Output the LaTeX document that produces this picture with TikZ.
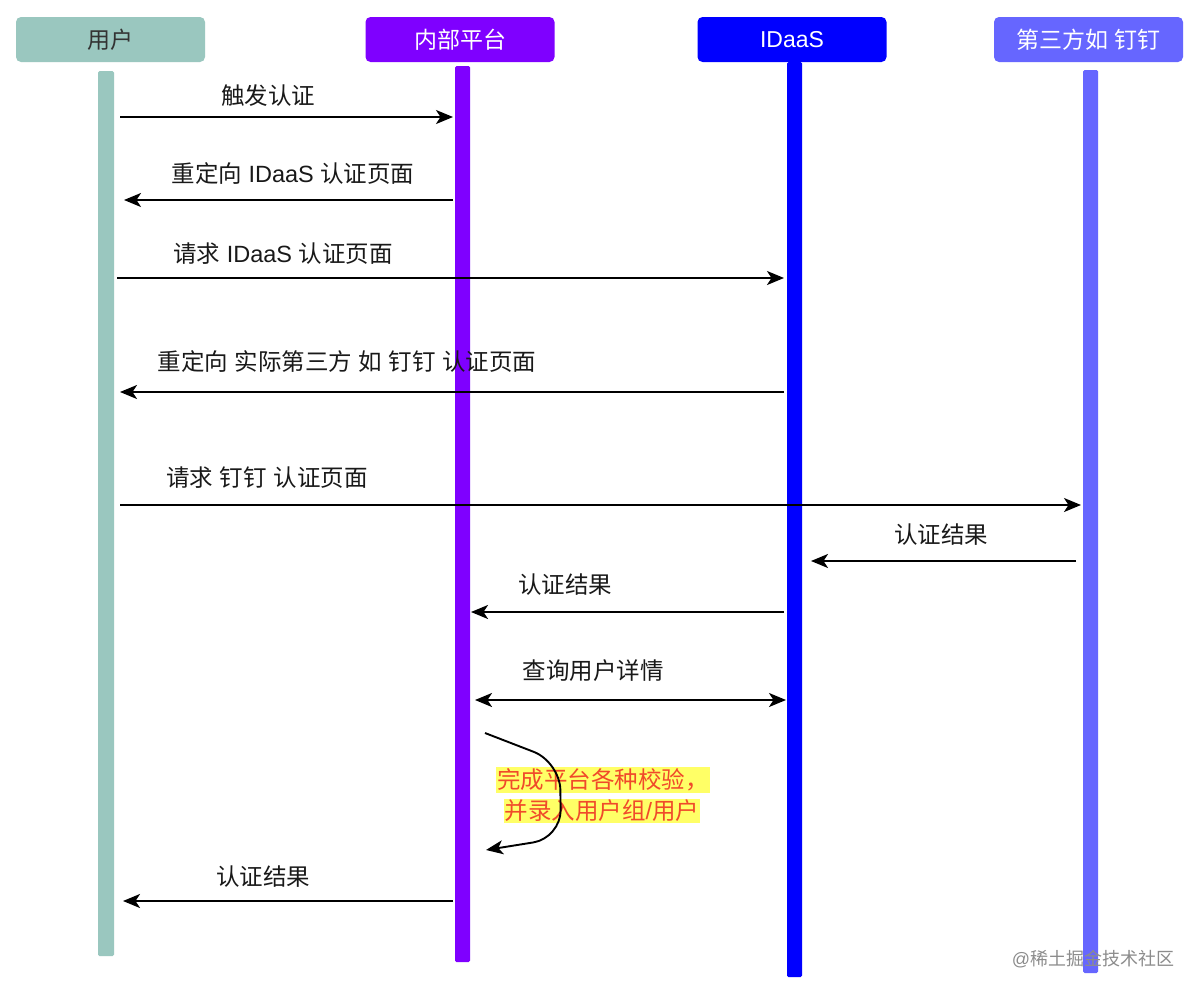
\documentclass[tikz,border=0pt]{standalone}
\usepackage{fontspec}
\setmainfont{Liberation Sans}
\newfontfamily\cjkfont{Noto Sans CJK SC}
\newcommand\zh[1]{{\cjkfont #1}}
\usetikzlibrary{arrows.meta}
\definecolor{cuser}{HTML}{9AC7BF}
\definecolor{cplat}{HTML}{7F00FF}
\definecolor{cidaas}{HTML}{0000FF}
\definecolor{cthird}{HTML}{6666FF}
\definecolor{notered}{HTML}{F04A2A}
\definecolor{noteyel}{HTML}{FFFF66}
\begin{document}
\begin{tikzpicture}[x=1pt,y=-1pt,
  head/.style={rounded corners=5pt,minimum width=189pt,minimum height=45pt,inner sep=0pt,font=\fontsize{23}{27}\selectfont,text=white},
  tip/.tip={Stealth[length=17pt,width=14pt,inset=4.5pt]},
  msg/.style={line width=1.9pt,-tip},
  both/.style={line width=1.9pt,tip-tip},
  lbl/.style={font=\fontsize{23.5}{28}\selectfont,inner sep=0pt,text=black!90},
  note/.style={font=\fontsize{23.5}{28}\selectfont,text=notered,fill=noteyel,inner xsep=1pt,inner ysep=1.5pt}]
\useasboundingbox[fill=white] (0,0) rectangle (1200,996);
% headers
\node[head,fill=cuser,text=black!80] (hu) at (110.5,39.5) {\zh{用户}};
\node[head,fill=cplat] (hp) at (460,39.5) {\zh{内部平台}};
\node[head,fill=cidaas] (hi) at (792,39.5) {IDaaS};
\node[head,fill=cthird] (ht) at (1088.5,39.5) {\zh{第三方如} \zh{钉钉}};
% lifelines
\fill[cuser,rounded corners=1.5pt] (98,71) rectangle (114,956);
\fill[cplat,rounded corners=1.5pt] (455,66) rectangle (470,962);
\fill[cidaas,rounded corners=1.5pt] (787,62) rectangle (802,977);
\fill[cthird,rounded corners=1.5pt] (1083,70) rectangle (1098,973);
% endpoints
\coordinate (u1) at (120,117); \coordinate (p1) at (453,117);
\coordinate (p2) at (453,200); \coordinate (u2) at (124,200);
\coordinate (u3) at (117,278); \coordinate (i3) at (784,278);
\coordinate (i4) at (784,392); \coordinate (u4) at (120,392);
\coordinate (u5) at (120,505); \coordinate (t5) at (1081,505);
\coordinate (t6) at (1076,561); \coordinate (i6) at (811,561);
\coordinate (i7) at (784,612); \coordinate (p7) at (471,612);
\coordinate (p8) at (475,700); \coordinate (i8) at (786,700);
\coordinate (s9) at (485,733); \coordinate (e9) at (486,850);
\coordinate (p10) at (453,901); \coordinate (u10) at (123,901);
% messages
\draw[msg] (u1) -- (p1);
\node[lbl] (l1) at (268,96) {\zh{触发认证}};
\draw[msg] (p2) -- (u2);
\node[lbl] (l2) at (293,174) {\zh{重定向} IDaaS \zh{认证页面}};
\draw[msg] (u3) -- (i3);
\node[lbl] (l3) at (283,254) {\zh{请求} IDaaS \zh{认证页面}};
\draw[msg] (i4) -- (u4);
\node[lbl] (l4) at (347,362) {\zh{重定向} \zh{实际第三方} \zh{如} \zh{钉钉} \zh{认证页面}};
\draw[msg] (u5) -- (t5);
\node[lbl] (l5) at (267,478) {\zh{请求} \zh{钉钉} \zh{认证页面}};
\draw[msg] (t6) -- (i6);
\node[lbl] (l6) at (941,535) {\zh{认证结果}};
\draw[msg] (i7) -- (p7);
\node[lbl] (l7) at (565,585) {\zh{认证结果}};
\draw[both] (p8) -- (i8);
\node[lbl] (l8) at (593,671) {\zh{查询用户详情}};
% self call note
\node[note] (n1) at (603,780) {\zh{完成平台各种校验，}};
\node[note] (n2) at (602,811) {\zh{并录入用户组}/\zh{用户}};
\draw[msg,rounded corners=28pt] (s9) -- (560,762) -- (561,838) -- (e9);
\draw[msg] (p10) -- (u10);
\node[lbl] (l10) at (263,877) {\zh{认证结果}};
% watermark
\node[font=\fontsize{18}{21}\selectfont,text=black!45,inner sep=0pt] (wm) at (1093,959) {@\zh{稀土掘金技术社区}};
\end{tikzpicture}
\end{document}
